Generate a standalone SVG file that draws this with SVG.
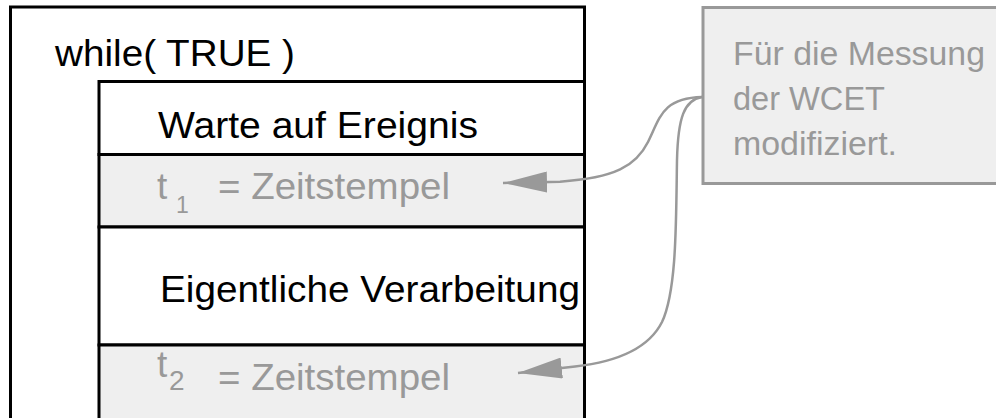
<svg xmlns="http://www.w3.org/2000/svg" width="996" height="418" viewBox="0 0 996 418">
  <defs>
    <style>
      .txt { font-family: "Liberation Sans", Arial, Helvetica, sans-serif; font-size: 37px; }
      .main { fill: #000000; }
      .dim { fill: #999999; }
      .sub1 { font-size: 23px; }
      .sub2 { font-size: 28px; }
      .box { stroke: #000000; stroke-width: 3; }
      .plain { fill: #ffffff; }
      .shaded { fill: #efefef; }
      .note { fill: #efefef; stroke: #999999; stroke-width: 3; }
      .notetxt { font-size: 34px; }
      .link { fill: none; stroke: #999999; stroke-width: 2.5; marker-end: url(#head); }
    </style>
    <marker id="head" viewBox="0 0 44 21" markerWidth="44" markerHeight="21" refX="44" refY="10.5" orient="auto" markerUnits="userSpaceOnUse">
      <path d="M0,0 L44,10.5 L0,21 Z" fill="#999999"/>
    </marker>
  </defs>

  <rect width="996" height="418" fill="#ffffff"/>

  <!-- loop frame -->
  <g id="loop">
    <rect class="box plain" x="10.5" y="7" width="574" height="440"/>
    <text class="txt main" x="55" y="66" textLength="240" lengthAdjust="spacingAndGlyphs">while( TRUE )</text>
  </g>

  <!-- loop body statements -->
  <g id="wait">
    <rect class="box plain" x="99" y="81.5" width="485.5" height="73"/>
    <text class="txt main" x="158" y="138" textLength="320" lengthAdjust="spacingAndGlyphs">Warte auf Ereignis</text>
  </g>

  <g id="stamp1">
    <rect class="box shaded" x="99" y="154.5" width="485.5" height="72.5"/>
    <text class="txt dim" x="157" y="199">t</text>
    <text class="txt dim sub1" x="176" y="213">1</text>
    <text class="txt dim" x="218" y="199" textLength="232" lengthAdjust="spacingAndGlyphs">= Zeitstempel</text>
  </g>

  <g id="work">
    <rect class="box plain" x="99" y="227" width="485.5" height="118"/>
    <text class="txt main" x="160" y="302" textLength="420" lengthAdjust="spacingAndGlyphs">Eigentliche Verarbeitung</text>
  </g>

  <g id="stamp2">
    <rect class="box shaded" x="99" y="345" width="485.5" height="100"/>
    <text class="txt dim" x="157" y="377">t</text>
    <text class="txt dim sub2" x="169" y="390">2</text>
    <text class="txt dim" x="218" y="390" textLength="232" lengthAdjust="spacingAndGlyphs">= Zeitstempel</text>
  </g>

  <!-- annotation -->
  <g id="remark">
    <rect class="note" x="703" y="7.5" width="310" height="176"/>
    <text class="txt dim notetxt" x="733" y="65" textLength="252" lengthAdjust="spacingAndGlyphs">Für die Messung</text>
    <text class="txt dim notetxt" x="733" y="110" textLength="152" lengthAdjust="spacingAndGlyphs">der WCET</text>
    <text class="txt dim notetxt" x="733" y="155" textLength="164" lengthAdjust="spacingAndGlyphs">modifiziert.</text>
  </g>

  <!-- connectors -->
  <g id="connectors">
    <path class="link" d="M702,97 C662,98 660,118 648,142 C636,166 615,178 560,181.7 L503,183"/>
    <path class="link" d="M702,97 C684,100 678,118 677,160 C676,220 677,290 662,322 C648,350 615,362 575,366.5 L518,373"/>
  </g>
</svg>
